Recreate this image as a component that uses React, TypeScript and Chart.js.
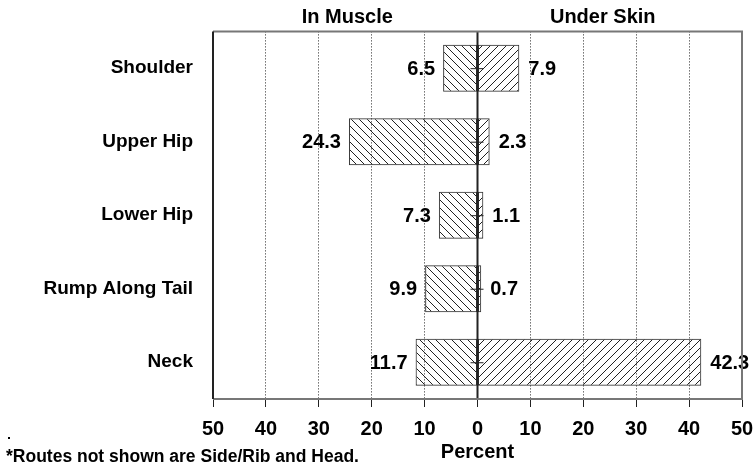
import React, { useEffect, useRef } from "react";
import { Chart, registerables } from "chart.js";

Chart.register(...registerables);

const categories = ["Shoulder", "Upper Hip", "Lower Hip", "Rump Along Tail", "Neck"];
const inMuscle = [6.5, 24.3, 7.3, 9.9, 11.7];
const underSkin = [7.9, 2.3, 1.1, 0.7, 42.3];
const xTicks = [-50, -40, -30, -20, -10, 0, 10, 20, 30, 40, 50];
const sideTitles = ["In Muscle", "Under Skin"];
const axisTitle = "Percent";
const footnote = "*Routes not shown are Side/Rib and Head.";

const FONT = "'Liberation Sans', Arial, sans-serif";

function makePattern(dir: "back" | "fwd"): CanvasPattern | string {
  const s = 8;
  const c = document.createElement("canvas");
  c.width = s;
  c.height = s;
  const ctx = c.getContext("2d");
  if (!ctx) return "#ccc";
  ctx.strokeStyle = "#222";
  ctx.lineWidth = 1;
  ctx.beginPath();
  if (dir === "back") {
    ctx.moveTo(-1, -1);
    ctx.lineTo(s + 1, s + 1);
    ctx.moveTo(-1, s - 1);
    ctx.lineTo(1, s + 1);
    ctx.moveTo(s - 1, -1);
    ctx.lineTo(s + 1, 1);
  } else {
    ctx.moveTo(-1, s + 1);
    ctx.lineTo(s + 1, -1);
    ctx.moveTo(-1, 1);
    ctx.lineTo(1, -1);
    ctx.moveTo(s - 1, s + 1);
    ctx.lineTo(s + 1, s - 1);
  }
  ctx.stroke();
  const p = ctx.createPattern(c, "repeat");
  return p || "#ccc";
}

const overlayPlugin = {
  id: "overlay",
  afterDatasetsDraw(chart: any) {
    const { ctx, chartArea, scales } = chart;
    const xs = scales.x;
    const ys = scales.y;
    const x0 = xs.getPixelForValue(0);
    ctx.save();
    // value labels
    ctx.font = `bold 20px ${FONT}`;
    ctx.fillStyle = "#000";
    ctx.textBaseline = "middle";
    categories.forEach((_, i) => {
      const y = ys.getPixelForValue(i);
      ctx.textAlign = "right";
      ctx.fillText(inMuscle[i].toFixed(1), xs.getPixelForValue(-inMuscle[i]) - 8, y + 1);
      ctx.textAlign = "left";
      ctx.fillText(underSkin[i].toFixed(1), xs.getPixelForValue(underSkin[i]) + 9, y + 1);
      // small error marks
      ctx.strokeStyle = "#222";
      ctx.lineWidth = 1;
      ctx.beginPath();
      ctx.moveTo(x0 - 7, y + 0.5);
      ctx.lineTo(x0 + 6, y + 0.5);
      ctx.stroke();
    });
    // zero line
    ctx.strokeStyle = "#222";
    ctx.lineWidth = 2;
    ctx.beginPath();
    ctx.moveTo(x0, chartArea.top);
    ctx.lineTo(x0, chartArea.bottom);
    ctx.stroke();
    // frame
    ctx.lineWidth = 2;
    ctx.strokeStyle = "#777";
    ctx.beginPath();
    ctx.moveTo(chartArea.left, chartArea.top);
    ctx.lineTo(chartArea.right, chartArea.top);
    ctx.lineTo(chartArea.right, chartArea.bottom);
    ctx.lineTo(chartArea.left, chartArea.bottom);
    ctx.stroke();
    ctx.strokeStyle = "#222";
    ctx.beginPath();
    ctx.moveTo(chartArea.left, chartArea.top);
    ctx.lineTo(chartArea.left, chartArea.bottom);
    ctx.stroke();
    // titles
    ctx.fillStyle = "#000";
    ctx.textAlign = "center";
    ctx.textBaseline = "middle";
    ctx.font = `bold 20px ${FONT}`;
    ctx.fillText(sideTitles[0], (chartArea.left + x0) / 2 + 2, 17);
    ctx.fillText(sideTitles[1], (x0 + chartArea.right) / 2 - 7, 17);
    ctx.fillText(axisTitle, x0, 452);
    ctx.textAlign = "left";
    ctx.font = `bold 17.5px ${FONT}`;
    ctx.fillText(footnote, 6, 457);
    ctx.fillRect(8, 437, 2, 2);
    ctx.restore();
  },
};

export default function App() {
  const ref = useRef<HTMLCanvasElement | null>(null);
  useEffect(() => {
    document.body.style.margin = "0";
    const canvas = ref.current;
    if (!canvas) return;
    const chart = new Chart(canvas, {
      type: "bar",
      data: {
        labels: categories,
        datasets: [
          {
            label: sideTitles[0],
            data: inMuscle.map((v) => -v),
            backgroundColor: makePattern("back") as any,
            borderColor: "#333",
            borderWidth: 1,
            borderSkipped: false,
            barPercentage: 0.64,
            categoryPercentage: 1,
          },
          {
            label: sideTitles[1],
            data: underSkin,
            backgroundColor: makePattern("fwd") as any,
            borderColor: "#333",
            borderWidth: 1,
            borderSkipped: false,
            barPercentage: 0.64,
            categoryPercentage: 1,
          },
        ],
      },
      options: {
        indexAxis: "y",
        responsive: false,
        animation: false,
        layout: { padding: { left: 0, right: 12, top: 30, bottom: 0 } },
        plugins: { legend: { display: false }, tooltip: { enabled: false } },
        scales: {
          x: {
            stacked: true,
            min: -50,
            max: 50,
            afterBuildTicks: (scale: any) => {
              scale.ticks = xTicks.map((v) => ({ value: v }));
            },
            afterFit: (scale: any) => {
              scale.height = 69;
              scale.paddingLeft = 0;
              scale.paddingRight = 0;
            },
            ticks: {
              color: "#000",
              font: { family: FONT, size: 20, weight: "bold" },
              padding: 10,
              maxRotation: 0,
              callback: (v: any) => String(Math.abs(Number(v))),
            },
            grid: {
              color: (c: any) =>
                c.tick && (c.tick.value === 0 || Math.abs(c.tick.value) === 50) ? "rgba(0,0,0,0)" : "#222",
              lineWidth: 1,
              tickColor: "#222",
              tickLength: 8,
              tickBorderDash: [],
            },
            border: { display: false, dash: [1, 2] },
          },
          y: {
            stacked: true,
            afterFit: (scale: any) => {
              scale.width = 213;
            },
            ticks: {
              color: "#000",
              font: { family: FONT, size: 19, weight: "bold" },
              padding: 20,
            },
            grid: { display: false, drawTicks: false },
            border: { display: false },
          },
        },
      },
      plugins: [overlayPlugin],
    } as any);
    return () => chart.destroy();
  }, []);
  return (
    <div style={{ position: "absolute", left: 0, top: 0, width: 754, height: 468, background: "#fff" }}>
      <canvas ref={ref} width={754} height={468} style={{ width: 754, height: 468 }} />
    </div>
  );
}
